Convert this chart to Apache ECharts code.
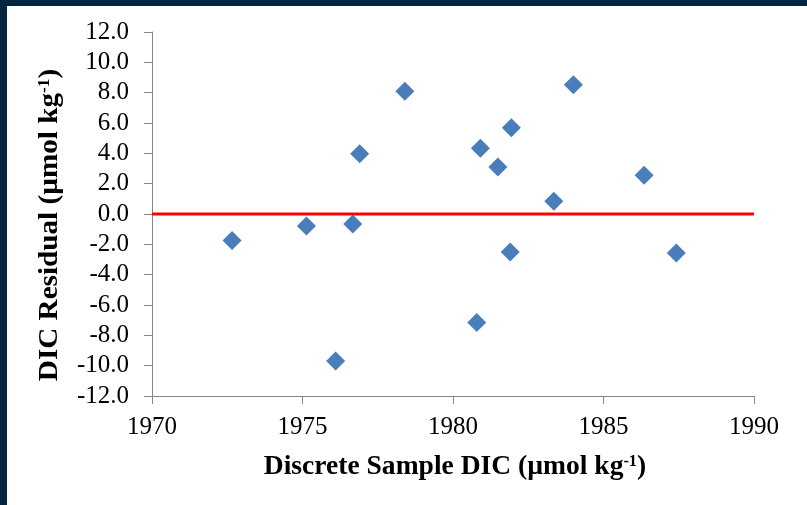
<!DOCTYPE html>
<html>
<head>
<meta charset="utf-8">
<script src="https://cdn.jsdelivr.net/npm/echarts@6/dist/echarts.min.js"></script>
<style>
html,body{margin:0;padding:0;background:#fff;}
#chart{width:807px;height:505px;}
</style>
</head>
<body>
<div id="chart"></div>
<script>
// Data
var sampleDIC = [1972.66, 1975.13, 1976.67, 1976.90, 1978.40, 1976.10, 1980.91, 1980.79, 1984.00, 1981.94, 1981.49, 1983.35, 1986.35, 1981.90, 1987.42];
var residual  = [-1.74, -0.79, -0.66, 3.98, 8.10, -9.70, 4.34, -7.15, 8.53, 5.68, 3.10, 0.84, 2.55, -2.51, -2.57];
var zeroLineX = [1970, 1990];
var zeroLineY = [0, 0];
var xTicks = [1970, 1975, 1980, 1985, 1990];
var yTicks = [-12, -10, -8, -6, -4, -2, 0, 2, 4, 6, 8, 10, 12];
var xTitle = 'Discrete Sample DIC (µmol kg{sup|-1})';
var yTitle = 'DIC Residual (µmol kg{sup|-1})';

var points = sampleDIC.map(function (x, i) { return [x, residual[i]]; });
var zeroLine = zeroLineX.map(function (x, i) { return [x, zeroLineY[i]]; });

var chart = echarts.init(document.getElementById('chart'), null, {renderer: 'canvas'});
var FONT = '"Liberation Serif", "Times New Roman", serif';
var axisColor = '#868686';
var supStyle = {fontFamily: FONT, fontSize: 16, fontWeight: 'bold', fill: '#000', verticalAlign: 'top', padding: [0, 0, 11, 0]};

chart.setOption({
  backgroundColor: '#ffffff',
  animation: false,
  graphic: [
    {type: 'rect', left: 0, top: 0, shape: {width: 807, height: 6}, style: {fill: '#022540'}, z: 100},
    {type: 'rect', left: 0, top: 0, shape: {width: 7, height: 505}, style: {fill: '#022540'}, z: 100},
    {type: 'text', x: 455, y: 467, scaleX: 1.02, scaleY: 1,
      style: {text: xTitle, fontFamily: FONT, fontSize: 27, fontWeight: 'bold', fill: '#000',
        align: 'center', verticalAlign: 'middle', rich: {sup: supStyle}}},
    {type: 'text', x: 50, y: 225, rotation: Math.PI / 2, scaleX: 1.08, scaleY: 1,
      style: {text: yTitle, fontFamily: FONT, fontSize: 27, fontWeight: 'bold', fill: '#000',
        align: 'center', verticalAlign: 'middle', rich: {sup: supStyle}}}
  ],
  grid: {left: 152, right: 53, top: 32, bottom: 109, containLabel: false},
  xAxis: {
    type: 'value',
    min: xTicks[0], max: xTicks[xTicks.length - 1], interval: 5,
    axisLine: {show: true, onZero: false, lineStyle: {color: axisColor, width: 1}},
    axisTick: {show: true, inside: false, length: 8, lineStyle: {color: axisColor}},
    axisLabel: {fontFamily: FONT, fontSize: 25, color: '#000', margin: 19,
      formatter: function (v) { return String(v); }},
    splitLine: {show: false}
  },
  yAxis: {
    type: 'value',
    min: yTicks[0], max: yTicks[yTicks.length - 1], interval: 2,
    axisLine: {show: true, onZero: false, lineStyle: {color: axisColor, width: 1}},
    axisTick: {show: true, inside: false, length: 8, lineStyle: {color: axisColor}},
    axisLabel: {fontFamily: FONT, fontSize: 25, color: '#000', margin: 23,
      formatter: function (v) { return v.toFixed(1); }},
    splitLine: {show: false}
  },
  series: [
    {
      type: 'scatter',
      data: points,
      symbol: 'diamond',
      symbolSize: [19, 19],
      itemStyle: {color: '#4A7EBB', opacity: 1},
      z: 2
    },
    {
      type: 'line',
      data: zeroLine,
      symbol: 'none',
      lineStyle: {color: '#FF0000', width: 3},
      z: 3
    }
  ]
});
</script>
</body>
</html>
